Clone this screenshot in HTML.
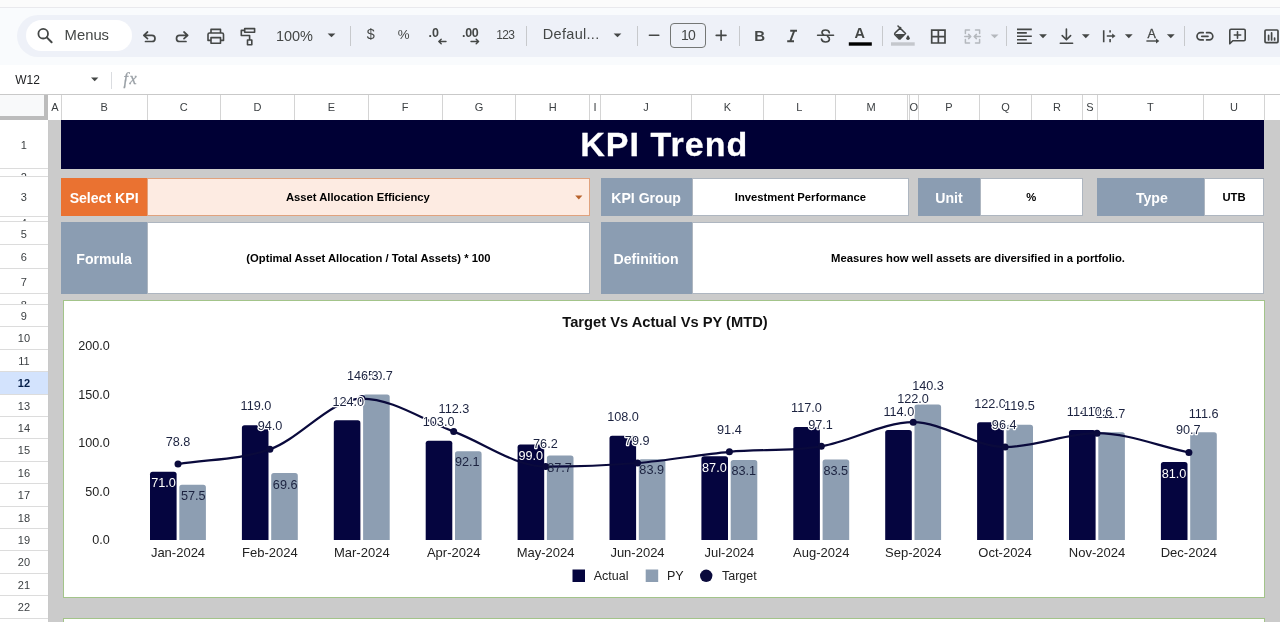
<!DOCTYPE html><html><head><meta charset='utf-8'><title>KPI Trend</title><style>
html,body{margin:0;padding:0;}
body{width:1280px;height:622px;overflow:hidden;position:relative;background:#f9fbfd;font-family:"Liberation Sans",sans-serif;color:#1f1f1f;}
div{box-sizing:border-box;}
.abs{position:absolute;}
.topstrip{left:0;top:0;width:1280px;height:8.3px;background:#fbfbfb;border-bottom:1px solid #e9e9ed;}
.toolbar{left:17.3px;top:15.3px;width:1300px;height:41.6px;background:#eef1f8;border-radius:21px;}
.menus{left:26px;top:20px;width:106px;height:31px;background:#fff;border-radius:16px;}
.tbtxt{position:absolute;color:#444746;white-space:nowrap;line-height:1;}
.sep{position:absolute;width:1px;background:#c7c9cc;top:26px;height:20px;}
.fbar{left:0;top:64.5px;width:1280px;height:30px;background:#fff;}
.colhdr{left:0;top:94px;width:1280px;height:26px;background:#fff;border-top:1px solid #c9c9c9;}
.colhdr span{position:absolute;top:6px;font-size:11px;color:#3c4043;text-align:center;line-height:13px;}
.colhdr i{position:absolute;top:0;width:1px;height:25px;background:#d4d4d4;}
.corner{left:0;top:95px;width:48.3px;height:25px;background:#f8f9fa;border-right:4px solid #bcbcbc;border-bottom:4px solid #bcbcbc;}
.rowhdr{left:0;top:120px;width:48.8px;height:502px;background:#fff;border-right:1px solid #c9c9c9;}
.rowhdr div{position:absolute;left:0;width:47.8px;border-bottom:1px solid #dcdcdc;font-size:11px;color:#3c4043;text-align:center;overflow:hidden;}
.sheet{left:48.6px;top:120px;width:1232px;height:502px;background:#cbcbcb;}
.lbl{position:absolute;color:#fff;font-weight:bold;font-size:14.1px;padding-top:2px;display:flex;align-items:center;justify-content:center;white-space:nowrap;}
.val{position:absolute;color:#000;font-weight:bold;font-size:11.25px;display:flex;align-items:center;justify-content:center;white-space:nowrap;background:#fff;}
</style></head><body>
<div class='abs topstrip'></div>
<div class='abs toolbar'></div>
<div class='abs menus'></div>
<span class='tbtxt' style='left:64.6px;top:27.5px;font-size:14.8px;'>Menus</span>
<span class='tbtxt' style='left:275.9px;top:28.5px;font-size:14.5px;'>100%</span>
<span class='tbtxt' style='left:366.8px;top:27.4px;font-size:14.5px;'>$</span>
<span class='tbtxt' style='left:397.8px;top:27.8px;font-size:13.3px;'>%</span>
<span class='tbtxt' style='left:428.5px;top:27px;font-size:12.5px;font-weight:bold;'>.0</span>
<span class='tbtxt' style='left:462px;top:27px;font-size:12.5px;font-weight:bold;letter-spacing:-0.3px;'>.00</span>
<span class='tbtxt' style='left:496.2px;top:29.2px;font-size:12px;letter-spacing:-0.7px;'>123</span>
<span class='tbtxt' style='left:542.8px;top:26.6px;font-size:14.5px;letter-spacing:0.3px;'>Defaul...</span>
<span class='tbtxt' style='left:681px;top:27.7px;font-size:14px;letter-spacing:-0.8px;'>10</span>
<div class='sep' style='left:350px'></div>
<div class='sep' style='left:526px'></div>
<div class='sep' style='left:637px'></div>
<div class='sep' style='left:738.5px'></div>
<div class='sep' style='left:881.5px'></div>
<div class='sep' style='left:1005.5px'></div>
<div class='sep' style='left:1184px'></div>
<div class='abs' style='left:670.2px;top:23.3px;width:35.7px;height:25px;border:1px solid #747775;border-radius:4px;'></div>
<svg class='abs' style='left:0;top:0' width='1280' height='64' viewBox='0 0 1280 64' fill='none' stroke='#444746' stroke-width='1.7' stroke-linecap='round' stroke-linejoin='round'><circle cx='43.2' cy='33.7' r='4.8' stroke-width='1.8'/><path d='M46.8 37.4 L51.6 42.2' stroke-width='2'/><path d='M147.5 32 L143.8 35.3 L147.5 38.6 M144 35.3 H151.9 A3.1 3.1 0 0 1 151.9 41.5 H145.5'/><path d='M184 32 L187.7 35.3 L184 38.6 M187.5 35.3 H179.6 A3.1 3.1 0 0 0 179.6 41.5 H186'/><path d='M211 33 V29.4 H220.5 V33 M211 40.4 H208 V34.5 Q208 33 209.5 33 H222 Q223.5 33 223.5 34.5 V40.4 H220.5 M211 37.6 H220.5 V43.2 H211 Z' stroke-width='1.6'/><path d='M244.7 28.6 H254.6 V32.3 H244.7 Z M244.7 30.4 H241.3 V35.5 H249.6 V39.6 M247.5 40 H251.8 V44.8 H247.5 Z' stroke-width='1.6'/><path d='M327.6 33.4 L335.4 33.4 L331.5 37.3 Z' fill='#444746' stroke='none'/><path d='M613.6 33.4 L621.4 33.4 L617.5 37.3 Z' fill='#444746' stroke='none'/><path d='M446 41.5 H438.8 M441.2 39.2 L438.8 41.5 L441.2 43.8' stroke-width='1.4'/><path d='M471 41.5 H478.6 M476.2 39.2 L478.6 41.5 L476.2 43.8' stroke-width='1.4'/><path d='M649.4 35.2 H658.8' stroke-width='1.6'/><path d='M716.2 35.4 H726 M721.1 30.6 V40.2' stroke-width='1.6'/><path d='M790.2 30.8 H797 M787.2 41.3 H794 M794.2 30.8 L790.2 41.3' stroke-width='1.9' stroke-linecap='butt'/><path d='M817.5 35.2 H833.6' stroke-width='1.4'/><path d='M829.3 32.6 Q828.8 30 825.5 30 Q822 30 822 32.6 Q822 34 823.5 34.8 M827.6 36.6 Q829.6 37.6 829.4 39.4 Q829 42 825.6 42 Q822 42 821.5 39.2' stroke-width='1.7'/><rect x='848.8' y='42.3' width='23' height='3.4' fill='#000' stroke='none'/><rect x='891' y='42.3' width='23.7' height='3.4' fill='#c4c7cc' stroke='none'/><path d='M898 26 L905.5 33.5 L900.5 38.5 Q899.6 39.2 898.7 38.5 L895 34.8 Q894.3 33.9 895 33 L900.6 27.6' stroke-width='1.6'/><path d='M895.2 34 H905 L900.4 38.4 Q899.6 39 898.8 38.4 Z' fill='#444746' stroke='none'/><path d='M908 35 Q909.8 37.4 909.8 38.3 A1.8 1.8 0 0 1 906.2 38.3 Q906.2 37.4 908 35 Z' fill='#444746' stroke='none'/><path d='M931.7 30.1 H945 V43 H931.7 Z M938.35 30.1 V43 M931.7 36.55 H945' stroke-width='1.7' stroke-linejoin='miter'/><g stroke='#b4b8bd' stroke-width='1.5'><path d='M969.5 30 H965.4 V33.5 M965.4 39.5 V43 H969.5 M975.5 30 H979.6 V33.5 M979.6 39.5 V43 H975.5 M964.8 36.5 H970.6 M968.6 34.4 L970.8 36.5 L968.6 38.6 M980.2 36.5 H974.4 M976.4 34.4 L974.2 36.5 L976.4 38.6'/></g><path d='M990.7 34.4 L998.5 34.4 L994.6 38.3 Z' fill='#b4b8bd' stroke='none'/><path d='M1017 29.4 H1031.8 M1017 32.9 H1026.8 M1017 36.3 H1031.8 M1017 39.7 H1026.8 M1017 43.2 H1031.8' stroke-width='1.6' stroke-linecap='butt'/><path d='M1039.1 34.300000000000004 L1046.9 34.300000000000004 L1043 38.2 Z' fill='#444746' stroke='none'/><path d='M1066.4 29 V39.6 M1062.2 35.6 L1066.4 39.8 L1070.6 35.6 M1060.3 43.2 H1072.6' stroke-width='1.6'/><path d='M1081.8999999999999 34.300000000000004 L1089.7 34.300000000000004 L1085.8 38.2 Z' fill='#444746' stroke='none'/><path d='M1103.7 30.2 V42.3 M1110.1 30.2 V32.4 M1110.1 39 V42.3 M1106.8 36 H1113' stroke-width='1.6' stroke-linecap='butt'/><path d='M1112.2 33.4 L1115.5 36 L1112.2 38.6 Z' fill='#444746' stroke='none'/><path d='M1124.8999999999999 34.300000000000004 L1132.7 34.300000000000004 L1128.8 38.2 Z' fill='#444746' stroke='none'/><path d='M1146.4 41 H1157' stroke-width='1.4' stroke-linecap='butt'/><path d='M1156 38.6 L1159.3 41 L1156 43.4 Z' fill='#444746' stroke='none'/><path d='M1166.8999999999999 34.300000000000004 L1174.7 34.300000000000004 L1170.8 38.2 Z' fill='#444746' stroke='none'/><path d='M1203.2 32.7 H1200.6 A3.6 3.6 0 0 0 1200.6 39.9 H1203.2 M1206.6 32.7 H1209.2 A3.6 3.6 0 0 1 1209.2 39.9 H1206.6 M1201.8 36.3 H1208' stroke-width='1.7'/><path d='M1229.8 43.8 V30.4 Q1229.8 29.2 1231 29.2 H1244 Q1245.2 29.2 1245.2 30.4 V39.6 Q1245.2 40.8 1244 40.8 H1232.8 Z M1237.5 31.8 V38.2 M1234.3 35 H1240.7' stroke-width='1.6'/><path d='M1265 31 Q1265 30 1266 30 H1277 Q1278 30 1278 31 V41.6 Q1278 42.6 1277 42.6 H1266 Q1265 42.6 1265 41.6 Z M1268.6 40 V35.4 M1271.6 40 V32.8 M1274.6 40 V38' stroke-width='1.7'/></svg>
<span class='tbtxt' style='left:754.2px;top:27.7px;font-size:15px;font-weight:bold;'>B</span>
<span class='tbtxt' style='left:854.6px;top:26.1px;font-size:14.5px;font-weight:bold;'>A</span>
<span class='tbtxt' style='left:1147.6px;top:27.9px;font-size:12.5px;-webkit-text-stroke:0.3px #444746;'>A</span>
<div class='abs fbar'></div>
<span class='tbtxt' style='left:15.3px;top:73.5px;font-size:12px;color:#202124;'>W12</span>
<svg class='abs' style='left:88px;top:74px' width='14' height='10'><path d='M3 3.6 L10.4 3.6 L6.7 7.3 Z' fill='#444746'/></svg>
<div class='abs' style='left:111px;top:72px;width:1px;height:17px;background:#dadce0'></div>
<span class='tbtxt' style='left:123.5px;top:70.8px;font-size:16px;color:#9aa0a6;font-style:italic;font-family:"Liberation Serif",serif;letter-spacing:1.6px;-webkit-text-stroke:0.3px #9aa0a6;'>fx</span>
<div class='abs colhdr'>
<span style='left:48.3px;width:13.0px'>A</span>
<i style='left:60.8px'></i>
<span style='left:61.3px;width:85.7px'>B</span>
<i style='left:146.5px'></i>
<span style='left:147.0px;width:73.7px'>C</span>
<i style='left:220.2px'></i>
<span style='left:220.7px;width:73.8px'>D</span>
<i style='left:294.0px'></i>
<span style='left:294.5px;width:73.8px'>E</span>
<i style='left:367.8px'></i>
<span style='left:368.3px;width:73.8px'>F</span>
<i style='left:441.6px'></i>
<span style='left:442.1px;width:73.7px'>G</span>
<i style='left:515.3px'></i>
<span style='left:515.8px;width:73.8px'>H</span>
<i style='left:589.1px'></i>
<span style='left:589.6px;width:10.9px'>I</span>
<i style='left:600.0px'></i>
<span style='left:600.5px;width:90.9px'>J</span>
<i style='left:690.9px'></i>
<span style='left:691.4px;width:72.2px'>K</span>
<i style='left:763.1px'></i>
<span style='left:763.6px;width:71.6px'>L</span>
<i style='left:834.7px'></i>
<span style='left:835.2px;width:71.8px'>M</span>
<i style='left:906.5px'></i>
<i style='left:908.9px'></i>
<span style='left:909.4px;width:8.9px'>O</span>
<i style='left:917.8px'></i>
<span style='left:918.3px;width:61.3px'>P</span>
<i style='left:979.1px'></i>
<span style='left:979.6px;width:51.8px'>Q</span>
<i style='left:1030.9px'></i>
<span style='left:1031.4px;width:51.2px'>R</span>
<i style='left:1082.1px'></i>
<span style='left:1082.6px;width:14.6px'>S</span>
<i style='left:1096.7px'></i>
<span style='left:1097.2px;width:106.3px'>T</span>
<i style='left:1203.0px'></i>
<span style='left:1203.5px;width:60.9px'>U</span>
<i style='left:1263.9px'></i>
</div>
<div class='abs corner'></div>
<div class='abs rowhdr'>
<div style='top:0.0px;height:49.0px;line-height:50.4px;'>1</div>
<div style='top:49.0px;height:8.0px;line-height:13px;padding-top:2.4px;'>2</div>
<div style='top:57.0px;height:40.0px;line-height:41.4px;'>3</div>
<div style='top:97.0px;height:5.0px;line-height:13px;padding-top:-0.6px;'>4</div>
<div style='top:102.0px;height:23.2px;line-height:24.6px;'>5</div>
<div style='top:125.2px;height:23.5px;line-height:24.9px;'>6</div>
<div style='top:148.7px;height:25.7px;line-height:27.1px;'>7</div>
<div style='top:174.4px;height:10.6px;line-height:13px;padding-top:5.0px;'>8</div>
<div style='top:185.0px;height:22.4px;line-height:23.8px;'>9</div>
<div style='top:207.4px;height:22.4px;line-height:23.8px;'>10</div>
<div style='top:229.8px;height:22.4px;line-height:23.8px;'>11</div>
<div style='top:252.2px;height:22.4px;line-height:23.8px;background:#d3e3fd;font-weight:bold;color:#041e49;'>12</div>
<div style='top:274.6px;height:22.4px;line-height:23.8px;'>13</div>
<div style='top:297.0px;height:22.4px;line-height:23.8px;'>14</div>
<div style='top:319.4px;height:22.4px;line-height:23.8px;'>15</div>
<div style='top:341.8px;height:22.4px;line-height:23.8px;'>16</div>
<div style='top:364.2px;height:22.4px;line-height:23.8px;'>17</div>
<div style='top:386.6px;height:22.4px;line-height:23.8px;'>18</div>
<div style='top:409.0px;height:22.4px;line-height:23.8px;'>19</div>
<div style='top:431.4px;height:22.4px;line-height:23.8px;'>20</div>
<div style='top:453.8px;height:22.4px;line-height:23.8px;'>21</div>
<div style='top:476.2px;height:22.4px;line-height:23.8px;'>22</div>
<div style='top:498.6px;height:22.4px;line-height:23.8px;'>23</div>
</div>
<div class='abs sheet'></div>
<div class='abs' style='left:61.2px;top:119.8px;width:1203.2px;height:49.1px;background:#000035;color:#fff;font-weight:bold;font-size:34px;letter-spacing:1.05px;text-align:center;line-height:49px;padding-left:3px;-webkit-text-stroke:0.3px #fff;'>KPI Trend</div>
<div class='lbl' style='left:61px;top:178px;width:86.2px;height:38.2px;background:#ea7231;'>Select KPI</div>
<div class='val' style='left:147.2px;top:178px;width:442.4px;height:38.2px;background:#fdebe2;border:1px solid #e0a27e;padding-right:21px;'>Asset Allocation Efficiency</div>
<svg class='abs' style='left:572px;top:192px' width='14' height='10'><path d='M3.2 3.4 L10.4 3.4 L6.8 7.4 Z' fill='#b8622b'/></svg>
<div class='lbl' style='left:600.5px;top:178px;width:91.2px;height:38.2px;background:#8b9db2;'>KPI Group</div>
<div class='val' style='left:691.7px;top:178px;width:217.6px;height:38.2px;border:1px solid #aeb6c0;'>Investment Performance</div>
<div class='lbl' style='left:918.3px;top:178px;width:61.4px;height:38.2px;background:#8b9db2;'>Unit</div>
<div class='val' style='left:979.7px;top:178px;width:103px;height:38.2px;border:1px solid #aeb6c0;'>%</div>
<div class='lbl' style='left:1097.2px;top:178px;width:106.4px;height:38.2px;background:#8b9db2;padding-left:3px;'>Type</div>
<div class='val' style='left:1203.6px;top:178px;width:60.8px;height:38.2px;border:1px solid #aeb6c0;'>UTB</div>
<div class='lbl' style='left:61px;top:222.3px;width:86.2px;height:72.1px;background:#8b9db2;'>Formula</div>
<div class='val' style='left:147.2px;top:222.3px;width:442.4px;height:72.1px;border:1px solid #aeb6c0;'>(Optimal Asset Allocation / Total Assets) * 100</div>
<div class='lbl' style='left:600.5px;top:222.3px;width:91.2px;height:72.1px;background:#8b9db2;'>Definition</div>
<div class='val' style='left:691.7px;top:222.3px;width:572.7px;height:72.1px;border:1px solid #aeb6c0;'>Measures how well assets are diversified in a portfolio.</div>
<div class='abs' style='left:62.6px;top:300.2px;width:1202.8px;height:297.6px;background:#fff;border:1px solid #a3c48a;'></div>
<div class='abs' style='left:62.6px;top:618.2px;width:1202.8px;height:20px;background:#fff;border:1px solid #a3c48a;'></div>
<svg class='abs' style='left:0;top:0' width='1280' height='622' viewBox='0 0 1280 622' font-family='"Liberation Sans",sans-serif'><text x='665' y='326.9' text-anchor='middle' font-size='14.7' font-weight='bold' fill='#111'>Target Vs Actual Vs PY (MTD)</text><text x='109.8' y='544.4' text-anchor='end' font-size='12.6' fill='#222'>0.0</text><text x='109.8' y='495.9' text-anchor='end' font-size='12.6' fill='#222'>50.0</text><text x='109.8' y='447.4' text-anchor='end' font-size='12.6' fill='#222'>100.0</text><text x='109.8' y='398.9' text-anchor='end' font-size='12.6' fill='#222'>150.0</text><text x='109.8' y='350.4' text-anchor='end' font-size='12.6' fill='#222'>200.0</text><path d='M150.0 540.0 V474.3 Q150.0 471.7 152.6 471.7 H174.0 Q176.6 471.7 176.6 474.3 V540.0 Z' fill='#05053f'/><path d='M179.3 540.0 V487.4 Q179.3 484.8 181.9 484.8 H203.3 Q205.9 484.8 205.9 487.4 V540.0 Z' fill='#8d9eb2'/><path d='M241.9 540.0 V427.8 Q241.9 425.2 244.5 425.2 H265.9 Q268.5 425.2 268.5 427.8 V540.0 Z' fill='#05053f'/><path d='M271.2 540.0 V475.7 Q271.2 473.1 273.8 473.1 H295.2 Q297.8 473.1 297.8 475.7 V540.0 Z' fill='#8d9eb2'/><path d='M333.8 540.0 V422.9 Q333.8 420.3 336.4 420.3 H357.8 Q360.4 420.3 360.4 422.9 V540.0 Z' fill='#05053f'/><path d='M363.1 540.0 V397.0 Q363.1 394.4 365.7 394.4 H387.1 Q389.7 394.4 389.7 397.0 V540.0 Z' fill='#8d9eb2'/><path d='M425.7 540.0 V443.3 Q425.7 440.7 428.3 440.7 H449.7 Q452.3 440.7 452.3 443.3 V540.0 Z' fill='#05053f'/><path d='M455.0 540.0 V453.9 Q455.0 451.3 457.6 451.3 H479.0 Q481.6 451.3 481.6 453.9 V540.0 Z' fill='#8d9eb2'/><path d='M517.6 540.0 V447.2 Q517.6 444.6 520.2 444.6 H541.6 Q544.2 444.6 544.2 447.2 V540.0 Z' fill='#05053f'/><path d='M546.9 540.0 V458.1 Q546.9 455.5 549.5 455.5 H570.9 Q573.5 455.5 573.5 458.1 V540.0 Z' fill='#8d9eb2'/><path d='M609.5 540.0 V438.4 Q609.5 435.8 612.1 435.8 H633.5 Q636.1 435.8 636.1 438.4 V540.0 Z' fill='#05053f'/><path d='M638.8 540.0 V461.8 Q638.8 459.2 641.4 459.2 H662.8 Q665.4 459.2 665.4 461.8 V540.0 Z' fill='#8d9eb2'/><path d='M701.4 540.0 V458.8 Q701.4 456.2 704.0 456.2 H725.4 Q728.0 456.2 728.0 458.8 V540.0 Z' fill='#05053f'/><path d='M730.7 540.0 V462.6 Q730.7 460.0 733.3 460.0 H754.7 Q757.3 460.0 757.3 462.6 V540.0 Z' fill='#8d9eb2'/><path d='M793.3 540.0 V429.7 Q793.3 427.1 795.9 427.1 H817.3 Q819.9 427.1 819.9 429.7 V540.0 Z' fill='#05053f'/><path d='M822.6 540.0 V462.2 Q822.6 459.6 825.2 459.6 H846.6 Q849.2 459.6 849.2 462.2 V540.0 Z' fill='#8d9eb2'/><path d='M885.2 540.0 V432.6 Q885.2 430.0 887.8 430.0 H909.2 Q911.8 430.0 911.8 432.6 V540.0 Z' fill='#05053f'/><path d='M914.5 540.0 V407.1 Q914.5 404.5 917.1 404.5 H938.5 Q941.1 404.5 941.1 407.1 V540.0 Z' fill='#8d9eb2'/><path d='M977.1 540.0 V424.9 Q977.1 422.3 979.7 422.3 H1001.1 Q1003.7 422.3 1003.7 424.9 V540.0 Z' fill='#05053f'/><path d='M1006.4 540.0 V427.3 Q1006.4 424.7 1009.0 424.7 H1030.4 Q1033.0 424.7 1033.0 427.3 V540.0 Z' fill='#8d9eb2'/><path d='M1069.0 540.0 V432.6 Q1069.0 430.0 1071.6 430.0 H1093.0 Q1095.6 430.0 1095.6 432.6 V540.0 Z' fill='#05053f'/><path d='M1098.3 540.0 V434.9 Q1098.3 432.3 1100.9 432.3 H1122.3 Q1124.9 432.3 1124.9 434.9 V540.0 Z' fill='#8d9eb2'/><path d='M1160.9 540.0 V464.6 Q1160.9 462.0 1163.5 462.0 H1184.9 Q1187.5 462.0 1187.5 464.6 V540.0 Z' fill='#05053f'/><path d='M1190.2 540.0 V434.9 Q1190.2 432.3 1192.8 432.3 H1214.2 Q1216.8 432.3 1216.8 434.9 V540.0 Z' fill='#8d9eb2'/><path d='M178.0 464.1 C208.6 459.1 239.3 460.2 269.9 449.3 C300.5 438.4 331.2 398.6 361.8 398.6 C392.4 398.6 423.1 420.2 453.7 431.6 C484.3 442.9 515.0 466.6 545.6 466.6 C576.2 466.6 606.9 465.5 637.5 463.0 C668.1 460.5 698.8 454.6 729.4 451.8 C760.0 449.1 790.7 451.3 821.3 446.3 C851.9 441.4 882.6 422.2 913.2 422.2 C943.8 422.2 974.5 447.0 1005.1 447.0 C1035.7 447.0 1066.4 433.2 1097.0 433.2 C1127.6 433.2 1158.3 446.1 1188.9 452.5' fill='none' stroke='#0a0a3c' stroke-width='2.2'/><circle cx='178.0' cy='464.1' r='3.5' fill='#0a0a3c'/><circle cx='269.9' cy='449.3' r='3.5' fill='#0a0a3c'/><circle cx='361.8' cy='398.6' r='3.5' fill='#0a0a3c'/><circle cx='453.7' cy='431.6' r='3.5' fill='#0a0a3c'/><circle cx='545.6' cy='466.6' r='3.5' fill='#0a0a3c'/><circle cx='637.5' cy='463.0' r='3.5' fill='#0a0a3c'/><circle cx='729.4' cy='451.8' r='3.5' fill='#0a0a3c'/><circle cx='821.3' cy='446.3' r='3.5' fill='#0a0a3c'/><circle cx='913.2' cy='422.2' r='3.5' fill='#0a0a3c'/><circle cx='1005.1' cy='447.0' r='3.5' fill='#0a0a3c'/><circle cx='1097.0' cy='433.2' r='3.5' fill='#0a0a3c'/><circle cx='1188.9' cy='452.5' r='3.5' fill='#0a0a3c'/><text x='178.0' y='557.1' text-anchor='middle' font-size='13' fill='#222'>Jan-2024</text><text x='269.9' y='557.1' text-anchor='middle' font-size='13' fill='#222'>Feb-2024</text><text x='361.8' y='557.1' text-anchor='middle' font-size='13' fill='#222'>Mar-2024</text><text x='453.7' y='557.1' text-anchor='middle' font-size='13' fill='#222'>Apr-2024</text><text x='545.6' y='557.1' text-anchor='middle' font-size='13' fill='#222'>May-2024</text><text x='637.5' y='557.1' text-anchor='middle' font-size='13' fill='#222'>Jun-2024</text><text x='729.4' y='557.1' text-anchor='middle' font-size='13' fill='#222'>Jul-2024</text><text x='821.3' y='557.1' text-anchor='middle' font-size='13' fill='#222'>Aug-2024</text><text x='913.2' y='557.1' text-anchor='middle' font-size='13' fill='#222'>Sep-2024</text><text x='1005.1' y='557.1' text-anchor='middle' font-size='13' fill='#222'>Oct-2024</text><text x='1097.0' y='557.1' text-anchor='middle' font-size='13' fill='#222'>Nov-2024</text><text x='1188.9' y='557.1' text-anchor='middle' font-size='13' fill='#222'>Dec-2024</text><text x='193.3' y='499.5' text-anchor='middle' font-size='12.7' fill='#1c2340'>57.5</text><text x='163.5' y='486.5' text-anchor='middle' font-size='12.7' fill='#fff' stroke='#0a0a3c' stroke-width='1.6' stroke-linejoin='round' paint-order='stroke'>71.0</text><text x='178' y='445.7' text-anchor='middle' font-size='12.7' fill='#1c2340' stroke='#fff' stroke-width='2.4' stroke-linejoin='round' paint-order='stroke'>78.8</text><text x='285.2' y='488.5' text-anchor='middle' font-size='12.7' fill='#1c2340'>69.6</text><text x='256' y='409.8' text-anchor='middle' font-size='12.7' fill='#1c2340' stroke='#fff' stroke-width='2.4' stroke-linejoin='round' paint-order='stroke'>119.0</text><text x='270' y='429.9' text-anchor='middle' font-size='12.7' fill='#1c2340' stroke='#fff' stroke-width='2.4' stroke-linejoin='round' paint-order='stroke'>94.0</text><text x='376.9' y='380.2' text-anchor='middle' font-size='12.7' fill='#1c2340' stroke='#fff' stroke-width='2.4' stroke-linejoin='round' paint-order='stroke'>150.7</text><text x='362.8' y='380.2' text-anchor='middle' font-size='12.7' fill='#1c2340' stroke='#fff' stroke-width='2.4' stroke-linejoin='round' paint-order='stroke'>146.3</text><text x='348.3' y='405.5' text-anchor='middle' font-size='12.7' fill='#1c2340' stroke='#fff' stroke-width='2.4' stroke-linejoin='round' paint-order='stroke'>124.0</text><text x='467.3' y='466.4' text-anchor='middle' font-size='12.7' fill='#1c2340'>92.1</text><text x='454' y='413.1' text-anchor='middle' font-size='12.7' fill='#1c2340' stroke='#fff' stroke-width='2.4' stroke-linejoin='round' paint-order='stroke'>112.3</text><text x='438.6' y='426.0' text-anchor='middle' font-size='12.7' fill='#1c2340' stroke='#fff' stroke-width='2.4' stroke-linejoin='round' paint-order='stroke'>103.0</text><text x='559.5' y='471.5' text-anchor='middle' font-size='12.7' fill='#1c2340'>87.7</text><text x='545.4' y='448.4' text-anchor='middle' font-size='12.7' fill='#1c2340' stroke='#fff' stroke-width='2.4' stroke-linejoin='round' paint-order='stroke'>76.2</text><text x='530.8' y='460.0' text-anchor='middle' font-size='12.7' fill='#fff' stroke='#0a0a3c' stroke-width='1.6' stroke-linejoin='round' paint-order='stroke'>99.0</text><text x='651.7' y='474.1' text-anchor='middle' font-size='12.7' fill='#1c2340'>83.9</text><text x='623' y='420.9' text-anchor='middle' font-size='12.7' fill='#1c2340' stroke='#fff' stroke-width='2.4' stroke-linejoin='round' paint-order='stroke'>108.0</text><text x='637.2' y='445.0' text-anchor='middle' font-size='12.7' fill='#1c2340' stroke='#fff' stroke-width='2.4' stroke-linejoin='round' paint-order='stroke'>79.9</text><text x='743.8' y='474.9' text-anchor='middle' font-size='12.7' fill='#1c2340'>83.1</text><text x='729.4' y='433.5' text-anchor='middle' font-size='12.7' fill='#1c2340' stroke='#fff' stroke-width='2.4' stroke-linejoin='round' paint-order='stroke'>91.4</text><text x='714.4' y='471.5' text-anchor='middle' font-size='12.7' fill='#fff' stroke='#0a0a3c' stroke-width='1.6' stroke-linejoin='round' paint-order='stroke'>87.0</text><text x='835.8' y='474.9' text-anchor='middle' font-size='12.7' fill='#1c2340'>83.5</text><text x='806.5' y='411.6' text-anchor='middle' font-size='12.7' fill='#1c2340' stroke='#fff' stroke-width='2.4' stroke-linejoin='round' paint-order='stroke'>117.0</text><text x='820.5' y='428.6' text-anchor='middle' font-size='12.7' fill='#1c2340' stroke='#fff' stroke-width='2.4' stroke-linejoin='round' paint-order='stroke'>97.1</text><text x='928' y='389.7' text-anchor='middle' font-size='12.7' fill='#1c2340' stroke='#fff' stroke-width='2.4' stroke-linejoin='round' paint-order='stroke'>140.3</text><text x='898.8' y='415.7' text-anchor='middle' font-size='12.7' fill='#1c2340' stroke='#fff' stroke-width='2.4' stroke-linejoin='round' paint-order='stroke'>114.0</text><text x='913' y='403.4' text-anchor='middle' font-size='12.7' fill='#1c2340' stroke='#fff' stroke-width='2.4' stroke-linejoin='round' paint-order='stroke'>122.0</text><text x='990' y='408.0' text-anchor='middle' font-size='12.7' fill='#1c2340' stroke='#fff' stroke-width='2.4' stroke-linejoin='round' paint-order='stroke'>122.0</text><text x='1019.5' y='409.8' text-anchor='middle' font-size='12.7' fill='#1c2340' stroke='#fff' stroke-width='2.4' stroke-linejoin='round' paint-order='stroke'>119.5</text><text x='1004.2' y='429.1' text-anchor='middle' font-size='12.7' fill='#1c2340' stroke='#fff' stroke-width='2.4' stroke-linejoin='round' paint-order='stroke'>96.4</text><text x='1082.2' y='415.7' text-anchor='middle' font-size='12.7' fill='#1c2340' stroke='#fff' stroke-width='2.4' stroke-linejoin='round' paint-order='stroke'>114.0</text><text x='1110.5' y='417.5' text-anchor='middle' font-size='12.7' fill='#1c2340' stroke='#fff' stroke-width='2.4' stroke-linejoin='round' paint-order='stroke'>111.7</text><text x='1097' y='415.7' text-anchor='middle' font-size='12.7' fill='#1c2340' stroke='#fff' stroke-width='2.4' stroke-linejoin='round' paint-order='stroke'>110.6</text><text x='1203.7' y='417.5' text-anchor='middle' font-size='12.7' fill='#1c2340' stroke='#fff' stroke-width='2.4' stroke-linejoin='round' paint-order='stroke'>111.6</text><text x='1188.3' y='433.7' text-anchor='middle' font-size='12.7' fill='#1c2340' stroke='#fff' stroke-width='2.4' stroke-linejoin='round' paint-order='stroke'>90.7</text><text x='1174' y='477.5' text-anchor='middle' font-size='12.7' fill='#fff' stroke='#0a0a3c' stroke-width='1.6' stroke-linejoin='round' paint-order='stroke'>81.0</text><rect x='572.5' y='569.5' width='12.5' height='12.5' fill='#05053f'/><text x='593.7' y='580.2' font-size='12.5' fill='#222'>Actual</text><rect x='645.7' y='569.5' width='12.5' height='12.5' fill='#8d9eb2'/><text x='667' y='580.2' font-size='12.5' fill='#222'>PY</text><circle cx='706.2' cy='575.8' r='6.2' fill='#0a0a3c'/><text x='722' y='580.2' font-size='12.5' fill='#222'>Target</text></svg>
</body></html>
